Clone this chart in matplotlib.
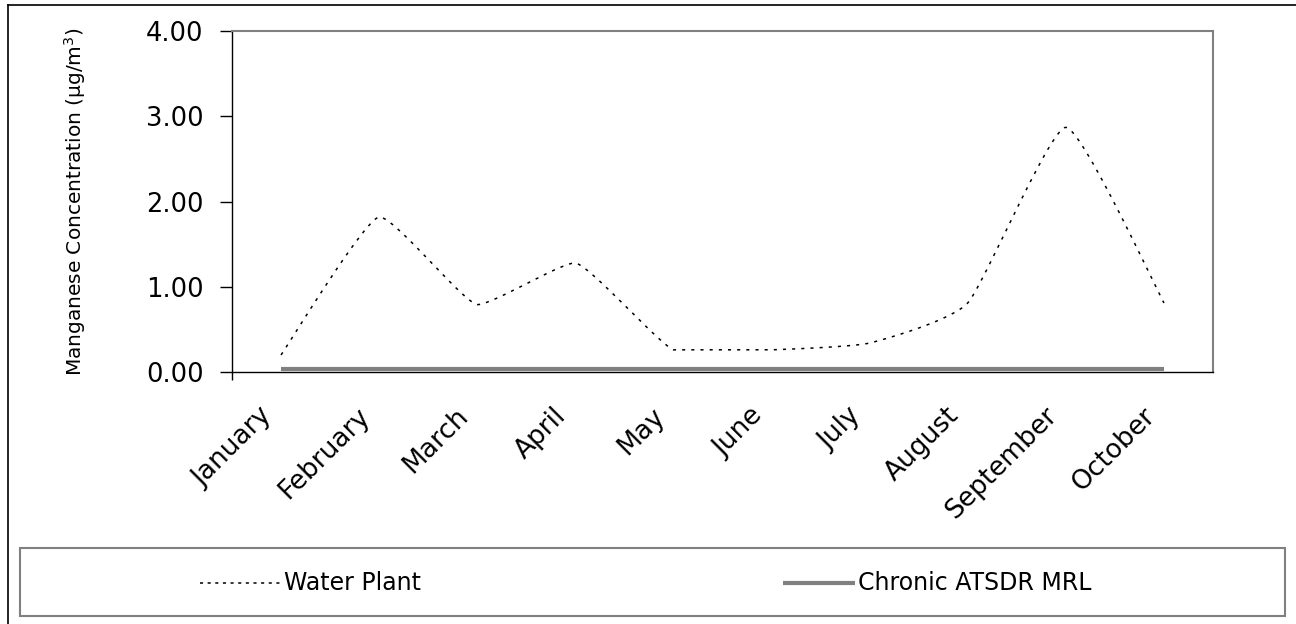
import numpy as np
import matplotlib
matplotlib.use("Agg")
import matplotlib.pyplot as plt
from matplotlib.lines import Line2D
from matplotlib.patches import Rectangle
from matplotlib.transforms import ScaledTranslation

months = ["January", "February", "March", "April", "May", "June",
          "July", "August", "September", "October"]
water_plant = [0.20, 1.82, 0.79, 1.28, 0.26, 0.26, 0.34, 0.81, 2.87, 0.81]
mrl_value = 0.04
mrl = [mrl_value] * len(months)
yticks = [0.0, 1.0, 2.0, 3.0, 4.0]

plt.rcParams['font.family'] = ['DejaVu Sans']
plt.rcParams['mathtext.fontset'] = 'dejavusans'

W, H = 1296, 624
fig = plt.figure(figsize=(W / 100, H / 100), dpi=100)
ax = fig.add_axes([232 / W, 1 - 372 / H, (1213 - 232) / W, (372 - 31) / H])

x = np.arange(len(months)) + 0.5


def smooth(xs, ys, k=0.08, n=30):
    xs = np.asarray(xs, float)
    ys = np.asarray(ys, float)
    px, py = [], []
    m = len(xs)
    for i in range(m - 1):
        i0, i2, i3 = max(i - 1, 0), i + 1, min(i + 2, m - 1)
        c1x = xs[i] + (xs[i2] - xs[i0]) * k
        c1y = ys[i] + (ys[i2] - ys[i0]) * k
        c2x = xs[i2] - (xs[i3] - xs[i]) * k
        c2y = ys[i2] - (ys[i3] - ys[i]) * k
        lo, hi = min(ys[i], ys[i2]), max(ys[i], ys[i2])
        c1y = min(max(c1y, lo), hi)
        c2y = min(max(c2y, lo), hi)
        t = np.linspace(0, 1, n, endpoint=(i == m - 2))
        b0, b1, b2, b3 = (1 - t) ** 3, 3 * (1 - t) ** 2 * t, 3 * (1 - t) * t ** 2, t ** 3
        px.append(b0 * xs[i] + b1 * c1x + b2 * c2x + b3 * xs[i2])
        py.append(b0 * ys[i] + b1 * c1y + b2 * c2y + b3 * ys[i2])
    return np.concatenate(px), np.concatenate(py)


sx, sy = smooth(x, water_plant)
ax.plot(x, mrl, color='#808080', lw=3.0, solid_capstyle='butt', zorder=2)
ax.plot(sx, sy, color='black', lw=1.1, dashes=(2, 4), zorder=3)

ax.set_xlim(0, len(months))
ax.set_ylim(0, 4)
ax.set_yticks(yticks)
ax.set_yticklabels([f"{v:.2f}" for v in yticks], fontsize=18.5)
ax.tick_params(axis='y', direction='out', length=8.6, width=1, pad=12)

ax.set_xticks(x)
ax.set_xticklabels(months, fontsize=19, rotation=45, ha='right', va='top',
                   rotation_mode='anchor')
ax.tick_params(axis='x', length=0, pad=22)
off = ScaledTranslation(-22 / 100, 0, fig.dpi_scale_trans)
for lab in ax.get_xticklabels():
    lab.set_transform(lab.get_transform() + off)
ax.set_xticks([0], minor=True)
ax.tick_params(axis='x', which='minor', length=6, width=1, direction='out')

for s in ['left', 'bottom']:
    ax.spines[s].set_color('black')
    ax.spines[s].set_linewidth(1.0)
for s in ['top', 'right']:
    ax.spines[s].set_color('#808080')
    ax.spines[s].set_linewidth(1.5)

ax.set_ylabel(r"Manganese Concentration (µg/m$^3$)", fontsize=14.5)
ax.yaxis.set_label_coords(-0.147, 0.5)

# outer frame
fig.add_artist(Line2D([8 / W, 8 / W], [0, 1 - 5 / H], color='black', lw=1.2))
fig.add_artist(Line2D([8 / W, 1], [1 - 5 / H, 1 - 5 / H], color='black', lw=1.2))

# legend box
fig.add_artist(Rectangle((20 / W, 1 - 616 / H), (1285 - 20) / W, (616 - 548) / H,
                         transform=fig.transFigure, fill=False,
                         edgecolor='#808080', lw=1.5))
ly = 1 - 583 / H
fig.add_artist(Line2D([200 / W, 280 / W], [ly, ly], color='black', lw=1.1, dashes=(2, 3)))
fig.text(284 / W, ly, "Water Plant", fontsize=17, va='center', ha='left')
fig.add_artist(Line2D([783 / W, 855 / W], [ly, ly], color='#808080', lw=3.0,
                      solid_capstyle='butt'))
fig.text(858 / W, ly, "Chronic ATSDR MRL", fontsize=17, va='center', ha='left')

fig.savefig("out.png", dpi=100)
